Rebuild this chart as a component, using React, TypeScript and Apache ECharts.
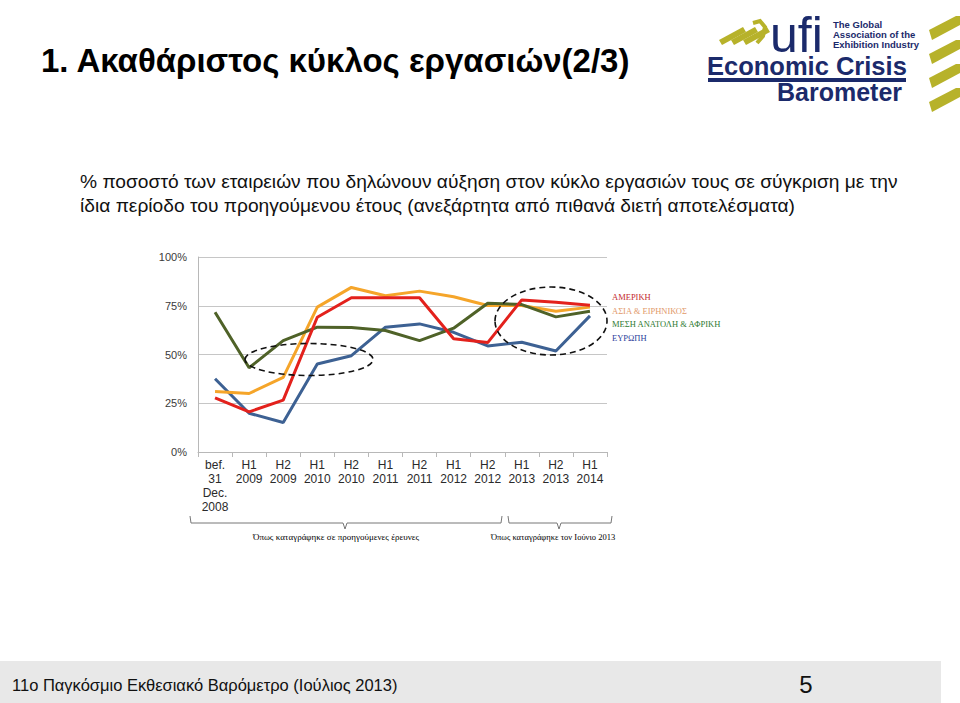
import React, { useEffect, useRef } from 'react';
import * as echarts from 'echarts';

const categories = [
  'bef.\n31\nDec.\n2008', 'H1\n2009', 'H2\n2009', 'H1\n2010', 'H2\n2010', 'H1\n2011',
  'H2\n2011', 'H1\n2012', 'H2\n2012', 'H1\n2013', 'H2\n2013', 'H1\n2014',
];
const america = [27.8, 20.6, 26.6, 69.1, 79.1, 79.1, 79.1, 58.1, 56.1, 78.0, 76.8, 75.3];
const asiaPacific = [31.0, 30.0, 38.3, 74.3, 84.4, 80.1, 82.5, 79.6, 75.1, 75.1, 72.2, 74.3];
const middleEastAfrica = [71.7, 43.2, 57.1, 64.0, 63.8, 62.3, 57.1, 63.5, 76.3, 75.6, 69.3, 72.2];
const europe = [37.6, 19.9, 15.1, 45.1, 49.4, 64.0, 65.7, 61.4, 54.4, 56.3, 51.8, 69.8];
const seriesNames = ['ΑΜΕΡΙΚΗ', 'ΑΣΙΑ & ΕΙΡΗΝΙΚΟΣ', 'ΜΕΣΗ ΑΝΑΤΟΛΗ & ΑΦΡΙΚΗ', 'ΕΥΡΩΠΗ'];
const lineColors = ['#e3211c', '#f5a52a', '#4f6228', '#3d6193'];
const legendColors = ['#c42a2e', '#e29a6a', '#2f7a32', '#2d3f9c'];

const titleText = '1. Ακαθάριστος κύκλος εργασιών(2/3)';
const subtitleLines = [
  '% ποσοστό των εταιρειών που δηλώνουν αύξηση στον κύκλο εργασιών τους σε σύγκριση με την',
  'ίδια περίοδο του προηγούμενου έτους (ανεξάρτητα από πιθανά διετή αποτελέσματα)',
];
const braceLabels = ['Όπως καταγράφηκε σε προηγούμενες έρευνες', 'Όπως καταγράφηκε τον Ιούνιο 2013'];
const footerText = '11ο Παγκόσμιο Εκθεσιακό Βαρόμετρο (Ιούλιος 2013)';
const pageNumber = '5';

const SANS = '"Liberation Sans", Arial, sans-serif';
const SERIF = '"Liberation Serif", "DejaVu Serif", serif';
const NAVY = '#1b2a6b';
const OLIVE = '#b7b22a';

export default function App() {
  const ref = useRef<HTMLDivElement>(null);

  useEffect(() => {
    if (!ref.current) return;
    const chart = echarts.init(ref.current, null, { renderer: 'svg' });
    const seriesData = [america, asiaPacific, middleEastAfrica, europe];

    const stripe = (x: number, y: number) => ({
      type: 'polygon',
      shape: { points: [[x, y + 13], [x + 24, y], [x + 27, y + 5], [x + 3, y + 18]] },
      style: { fill: OLIVE },
    });

    chart.setOption({
      animation: false,
      backgroundColor: '#ffffff',
      grid: { left: 198, top: 257, width: 409, height: 195, containLabel: false },
      legend: {
        orient: 'vertical',
        left: 602,
        top: 287,
        icon: 'none',
        itemWidth: 0,
        itemHeight: 10,
        itemGap: 4,
        selectedMode: false,
        textStyle: { fontFamily: SERIF, fontSize: 8.5 },
        data: seriesNames.map((n, i) => ({ name: n, textStyle: { color: legendColors[i] } })),
      },
      xAxis: {
        type: 'category',
        data: categories,
        boundaryGap: true,
        axisLine: { show: true, lineStyle: { color: '#b8b8b8', width: 1 } },
        axisTick: { show: true, length: 5, lineStyle: { color: '#b8b8b8' } },
        axisLabel: {
          interval: 0,
          color: '#2a2a2a',
          fontFamily: SANS,
          fontSize: 12,
          lineHeight: 14,
          margin: 6,
        },
      },
      yAxis: {
        type: 'value',
        min: 0,
        max: 100,
        interval: 25,
        axisLine: { show: true, lineStyle: { color: '#b8b8b8' } },
        axisTick: { show: false },
        splitLine: { lineStyle: { color: '#c6c6c6', width: 1 } },
        axisLabel: {
          formatter: '{value}%',
          color: '#3a3a3a',
          fontFamily: SANS,
          fontSize: 11,
          margin: 11,
        },
      },
      series: seriesNames.map((n, i) => ({
        name: n,
        type: 'line',
        data: seriesData[i],
        symbol: 'none',
        lineStyle: { color: lineColors[i], width: 3 },
        itemStyle: { color: lineColors[i] },
        z: 2 + (i === 0 ? 3 : i === 1 ? 1 : i === 2 ? 2 : 0),
      })),
      graphic: [
        // Title
        {
          type: 'text', left: 41, top: 44,
          style: { text: titleText, fontFamily: SANS, fontSize: 33, fontWeight: 'bold', fill: '#000' },
        },
        // Subtitle
        {
          type: 'text', left: 80, top: 172,
          style: { text: subtitleLines[0], fontFamily: SANS, fontSize: 19.2, fill: '#111' },
        },
        {
          type: 'text', left: 80, top: 196,
          style: { text: subtitleLines[1], fontFamily: SANS, fontSize: 19.2, fill: '#111' },
        },
        // Logo: ufi
        stripe(719, 27), stripe(731, 27), stripe(743, 27),
        {
          type: 'polyline',
          shape: { points: [[753, 23], [760, 21], [765, 27], [763, 36], [757, 43]] },
          style: { stroke: OLIVE, lineWidth: 4, fill: 'none' },
        },
        {
          type: 'text', left: 770, top: 10,
          style: { text: 'ufi', fontFamily: SANS, fontSize: 50, lineHeight: 40, fill: NAVY },
        },
        {
          type: 'text', left: 833, top: 19,
          style: {
            text: 'The Global\nAssociation of the\nExhibition Industry',
            fontFamily: SANS, fontSize: 9.5, lineHeight: 10, fontWeight: 'bold', fill: NAVY,
          },
        },
        {
          type: 'text', left: 707, top: 53,
          style: { text: 'Economic Crisis', fontFamily: SANS, fontSize: 25.5, lineHeight: 25, fontWeight: 'bold', fill: NAVY },
        },
        { type: 'rect', shape: { x: 708, y: 78, width: 198, height: 4 }, style: { fill: NAVY } },
        {
          type: 'text', left: 777, top: 79,
          style: { text: 'Barometer', fontFamily: SANS, fontSize: 25, lineHeight: 25, fontWeight: 'bold', fill: NAVY },
        },
        // right chevron stripes
        ...[16, 40, 64, 88].map((y) => ({
          type: 'polygon',
          shape: { points: [[929, y + 14], [956, y], [960, y], [960, y + 9], [932, y + 24]] },
          style: { fill: OLIVE },
        })),
        // Ellipses
        {
          type: 'ellipse', z: 100,
          shape: { cx: 309, cy: 359.5, rx: 64, ry: 16 },
          style: { fill: 'none', stroke: '#111', lineWidth: 1.6, lineDash: [6, 4] },
        },
        {
          type: 'ellipse', z: 100,
          shape: { cx: 551, cy: 321, rx: 56, ry: 34 },
          style: { fill: 'none', stroke: '#111', lineWidth: 1.6, lineDash: [6, 4] },
        },
        // Braces
        {
          type: 'polyline',
          shape: { points: [[190, 516], [191, 523], [343, 523], [345, 529], [347, 523], [501, 523], [502, 516]] },
          style: { stroke: '#777', lineWidth: 1, fill: 'none' },
        },
        {
          type: 'polyline',
          shape: { points: [[508, 516], [509, 523], [557, 523], [559, 529], [561, 523], [611, 523], [612, 516]] },
          style: { stroke: '#777', lineWidth: 1, fill: 'none' },
        },
        {
          type: 'text', x: 336, y: 537,
          style: { text: braceLabels[0], fontFamily: SERIF, fontSize: 9, fill: '#000', align: 'center', verticalAlign: 'middle' },
        },
        {
          type: 'text', x: 553, y: 537,
          style: { text: braceLabels[1], fontFamily: SERIF, fontSize: 8.5, fill: '#000', align: 'center', verticalAlign: 'middle' },
        },
        // Footer
        { type: 'rect', shape: { x: 0, y: 661, width: 941, height: 42 }, style: { fill: '#e8e8e8' } },
        {
          type: 'text', x: 12, y: 685,
          style: { text: footerText, fontFamily: SANS, fontSize: 16.5, fill: '#111', verticalAlign: 'middle' },
        },
        {
          type: 'text', x: 806, y: 684,
          style: { text: pageNumber, fontFamily: SANS, fontSize: 24, fill: '#111', align: 'center', verticalAlign: 'middle' },
        },
      ],
    });
    return () => chart.dispose();
  }, []);

  return (
    <div
      ref={ref}
      style={{ position: 'absolute', left: 0, top: 0, width: 960, height: 703 }}
    />
  );
}
